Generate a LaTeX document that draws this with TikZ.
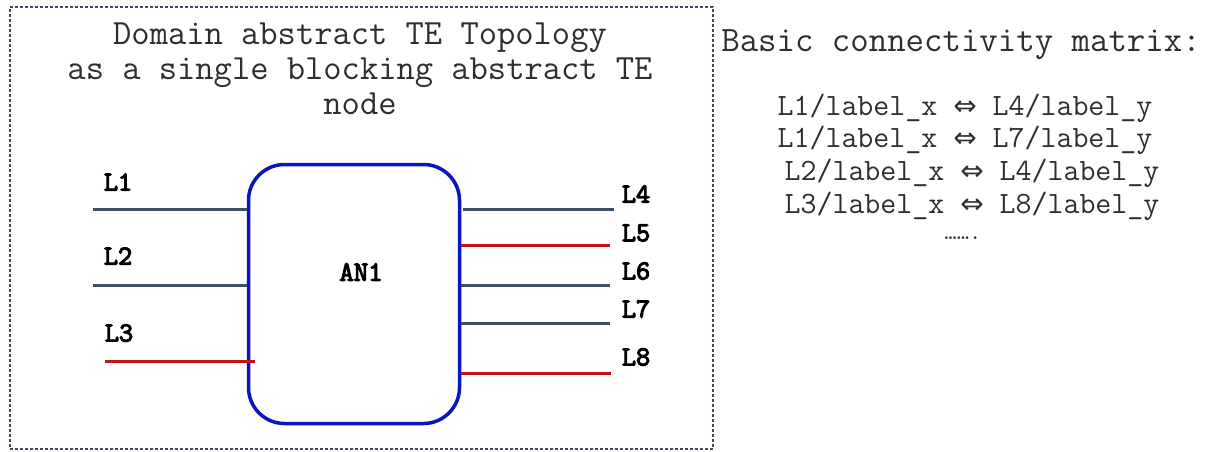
\documentclass[tikz,border=0pt]{standalone}
\usepackage{fontspec}
\newfontfamily\lmm{Latin Modern Mono}
\newfontfamily\lmmb{Latin Modern Mono}[FakeBold=4]
\newfontfamily\arrowfont{DejaVu Sans}
\definecolor{boxframe}{HTML}{3A4A6A}
\definecolor{linkgrey}{HTML}{3D4F63}
\definecolor{linkred}{HTML}{C0141C}
\definecolor{anblue}{HTML}{0A14C0}
\definecolor{txtgrey}{HTML}{2E2E2E}
\tikzset{
  linkg/.style={draw=linkgrey, line width=3pt},
  linkr/.style={draw=linkred, line width=3pt},
  lbl/.style={font=\lmmb\fontsize{27.5}{30}\selectfont, inner sep=0pt, text=black},
  mline/.style={font=\lmm\fontsize{31}{34}\selectfont, inner sep=0pt, text=txtgrey},
}
\newcommand{\dar}{{\arrowfont\fontsize{28}{30}\selectfont ⇔}}
\begin{document}
\begin{tikzpicture}[x=1pt,y=-1pt]
\useasboundingbox (0,0) rectangle (1209,451);
% dashed frame
\node[draw=boxframe, dash pattern=on 3pt off 2pt, line width=1.2pt, minimum width=703pt, minimum height=442pt, inner sep=0pt] (frame) at (361.5,228) {};
% title
\node[align=center, inner sep=0pt, text=txtgrey, font=\lmm\fontsize{35.5}{35}\selectfont] (title) at (360,69) {Domain abstract TE Topology\\as a single blocking abstract TE\\node};
% abstract node
\node[draw=anblue, line width=3.5pt, rounded corners=36pt, minimum width=211pt, minimum height=259pt, inner sep=0pt] (an1) at (354,294) {};
\node[font=\lmmb\fontsize{28}{30}\selectfont, inner sep=0pt] (an1lbl) at (361,272) {AN1};
% free ends
\coordinate (e1) at (93,209);
\coordinate (e2) at (93,285);
\coordinate (e3) at (105,361);
\coordinate (e4) at (614,209);
\coordinate (e5) at (610,245);
\coordinate (e6) at (610,285);
\coordinate (e7) at (610,323);
\coordinate (e8) at (611,373);
\draw[linkg] (e1) -- (e1 -| an1.west);
\draw[linkg] (e2) -- (e2 -| an1.west);
\draw[linkr] (e3) -- ([xshift=8pt]e3 -| an1.west);
\draw[linkg] ([xshift=2pt]e4 -| an1.east) -- (e4);
\draw[linkr] (e5 -| an1.east) -- (e5);
\draw[linkg] (e6 -| an1.east) -- (e6);
\draw[linkg] (e7 -| an1.east) -- (e7);
\draw[linkr] (e8 -| an1.east) -- (e8);
% link labels
\node[lbl] (l1) at (118,182) {L1};
\node[lbl] (l2) at (118,256) {L2};
\node[lbl] (l3) at (119,333) {L3};
\node[lbl] (l4) at (636,194) {L4};
\node[lbl] (l5) at (636,233) {L5};
\node[lbl] (l6) at (636,271) {L6};
\node[lbl] (l7) at (636,309) {L7};
\node[lbl] (l8) at (636,357) {L8};
% connectivity matrix
\node[inner sep=0pt, text=txtgrey, font=\lmm\fontsize{35.8}{38}\selectfont] (hdr) at (961,45) {Basic connectivity matrix:};
\node[mline] (m1) at (965,108) {L1/label\_x \dar{} L4/label\_y};
\node[mline] (m2) at (965,140) {L1/label\_x \dar{} L7/label\_y};
\node[mline] (m3) at (972,173) {L2/label\_x \dar{} L4/label\_y};
\node[mline] (m4) at (972,206) {L3/label\_x \dar{} L8/label\_y};
\node[mline, font=\lmm\fontsize{24}{26}\selectfont] (dots) at (963,238) {…….};
\end{tikzpicture}
\end{document}
